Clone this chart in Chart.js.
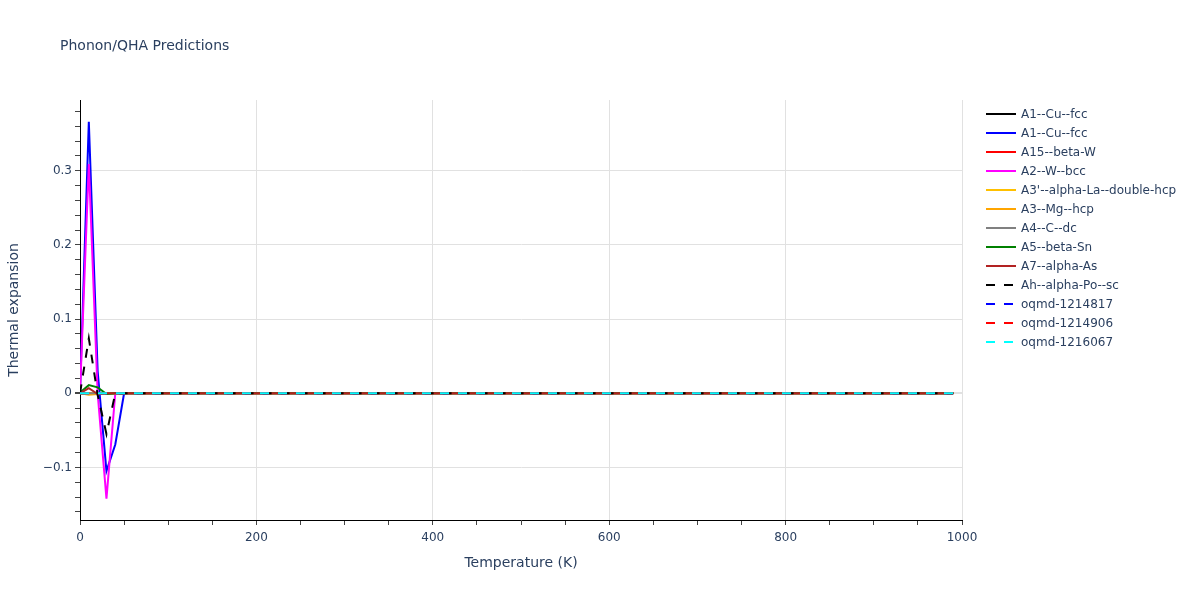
<!DOCTYPE html>
<html>
<head>
<meta charset="utf-8">
<script src="https://cdn.jsdelivr.net/npm/chart.js@4/dist/chart.umd.min.js"></script>
<style>
  html, body { margin:0; padding:0; background:#fff; }
  #wrap { position:relative; width:1200px; height:600px; font-family:"DejaVu Sans", Verdana, sans-serif; color:#2a3f5f; }
  #title { position:absolute; left:60px; top:35px; font-size:14px; line-height:20px; white-space:nowrap; }
  #legend { position:absolute; left:984px; top:104px; font-size:12px; }
  .item { position:relative; height:19px; white-space:nowrap; }
  .item svg { position:absolute; left:0; top:0; }
  .item span { position:absolute; left:37px; top:1px; line-height:18px; }
  canvas { position:absolute; left:0; top:0; }
</style>
</head>
<body>
<div id="wrap">
  <canvas id="c" width="1200" height="600"></canvas>
  <div id="title">Phonon/QHA Predictions</div>
  <div id="legend"></div>
</div>
<script>
// Temperature grid (K)
const temps = [0,10,20,30,40,50,60,70,80,90,100,110,120,130,140,150,160,170,180,190,
  200,210,220,230,240,250,260,270,280,290,300,310,320,330,340,350,360,370,380,390,
  400,410,420,430,440,450,460,470,480,490,500,510,520,530,540,550,560,570,580,590,
  600,610,620,630,640,650,660,670,680,690,700,710,720,730,740,750,760,770,780,790,
  800,810,820,830,840,850,860,870,880,890,900,910,920,930,940,950,960,970,980,990];

// Series names
const names = ["A1--Cu--fcc","A1--Cu--fcc","A15--beta-W","A2--W--bcc","A3'--alpha-La--double-hcp",
  "A3--Mg--hcp","A4--C--dc","A5--beta-Sn","A7--alpha-As","Ah--alpha-Po--sc",
  "oqmd-1214817","oqmd-1214906","oqmd-1216067"];

// Low-temperature values; every later point sits on 0
const a1CuBlack   = [0];
const a1CuBlue    = [0, 0.366, 0.03, -0.105, -0.069, 0];
const a15BetaW    = [0];
const a2WBcc      = [0, 0.309, 0.0, -0.142, 0];
const a3pLa       = [0];
const a3Mg        = [0, -0.002, -0.001, 0];
const a4C         = [0];
const a5Sn        = [0.001, 0.011, 0.008, -0.001, 0];
const a7As        = [0, 0.007, -0.001, 0];
const ahPo        = [0, 0.074, -0.002, -0.055, 0];
const oq1214817   = [0];
const oq1214906   = [0];
const oq1216067   = [0];

const seriesValues = [a1CuBlack,a1CuBlue,a15BetaW,a2WBcc,a3pLa,a3Mg,a4C,a5Sn,a7As,ahPo,oq1214817,oq1214906,oq1216067];
const colors = ["#000000","#0000ff","#ff0000","#ff00ff","#ffc000","#ffa500","#808080","#008000","#b22222","#000000","#0000ff","#ff0000","#00ffff"];
const dashed = [false,false,false,false,false,false,false,false,false,true,true,true,true];

function fullSeries(head){
  return temps.map((t,i) => ({x:t, y: i < head.length ? head[i] : 0}));
}

const datasets = names.map((n,i) => ({
  label: n,
  data: fullSeries(seriesValues[i]),
  borderColor: colors[i],
  backgroundColor: colors[i],
  borderWidth: 2,
  borderDash: dashed[i] ? [9,9] : [],
  pointRadius: 0,
  tension: 0,
  fill: false,
  order: -i
}));

// HTML legend
const leg = document.getElementById('legend');
names.forEach((n,i) => {
  const d = document.createElement('div');
  d.className = 'item';
  const dash = dashed[i] ? ' stroke-dasharray="9,9"' : '';
  d.innerHTML = '<svg width="34" height="19"><line x1="2" y1="10" x2="32" y2="10" stroke="'+colors[i]+'" stroke-width="2"'+dash+'/></svg><span>'+n.replace(/'/g,"&#39;")+'</span>';
  leg.appendChild(d);
});

const isMult = (v, m) => Math.abs(v/m - Math.round(v/m)) < 1e-6;
const FAM = "'DejaVu Sans', Verdana, sans-serif";
const fontTick = {family:FAM, size:12};
const tc = '#2a3f5f';

new Chart(document.getElementById('c'), {
  type: 'line',
  data: { datasets },
  options: {
    responsive: false,
    animation: false,
    layout: { padding: { left:0, top:100, right:238, bottom:0 } },
    plugins: { legend:{display:false}, tooltip:{enabled:false}, title:{display:false} },
    scales: {
      x: {
        type: 'linear', min: 0, max: 1000,
        afterFit: s => { s.height = 80; },
        border: { display:true, color:'#000', width:1 },
        grid: {
          color: c => (c.tick && isMult(c.tick.value,200) && c.tick.value !== 0) ? '#e1e1e1' : 'rgba(0,0,0,0)',
          tickColor: '#444', tickLength: 5, drawTicks: true
        },
        ticks: {
          stepSize: 50, autoSkip:false, maxRotation:0, padding: 6, color: tc, font: fontTick, includeBounds:false,
          callback: v => isMult(v,200) ? String(Math.round(v)) : ''
        },
        title: { display:true, text:'Temperature (K)', color: tc, font:{family:FAM, size:14}, padding:{top:0,bottom:28} }
      },
      y: {
        type: 'linear', min: -0.1708, max: 0.3953,
        afterFit: s => { s.width = 80; },
        border: { display:true, color:'#000', width:1 },
        grid: {
          color: c => (c.tick && isMult(c.tick.value,0.1)) ? '#e1e1e1' : 'rgba(0,0,0,0)',
          lineWidth: c => (c.tick && Math.abs(c.tick.value) < 1e-9) ? 2 : 1,
          tickColor: '#444', tickLength: 5, drawTicks: true
        },
        ticks: {
          stepSize: 0.02, autoSkip:false, padding: 3, color: tc, font: fontTick, includeBounds:false,
          callback: v => {
            if (!isMult(v,0.1)) return '';
            const r = Math.round(v*10)/10;
            if (r === 0) return '0';
            return r < 0 ? '\u2212' + Math.abs(r) : String(r);
          }
        },
        title: { display:true, text:'Thermal expansion', color: tc, font:{family:FAM, size:14}, padding:{top:6,bottom:0} }
      }
    }
  }
});
</script>
</body>
</html>
